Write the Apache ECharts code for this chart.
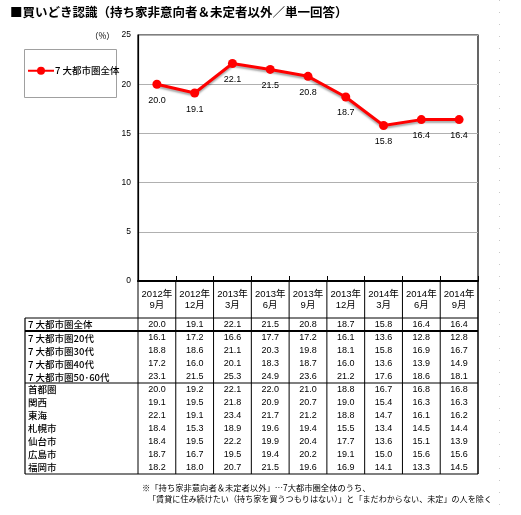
<!DOCTYPE html>
<html>
<head>
<meta charset="utf-8">
<script src="https://cdn.jsdelivr.net/npm/echarts@6/dist/echarts.min.js"></script>
<style>
html,body{margin:0;padding:0;background:#fff}
#divChart{width:521px;height:515px}
</style>
</head>
<body>
<div id="divChart"></div>
<script>
// categories / values
var months = ['2012年\n9月','2012年\n12月','2013年\n3月','2013年\n6月','2013年\n9月','2013年\n12月','2014年\n3月','2014年\n6月','2014年\n9月'];
var yTicks = [0,5,10,15,20,25];

var all7   = [20.0,19.1,22.1,21.5,20.8,18.7,15.8,16.4,16.4];
var age20  = [16.1,17.2,16.6,17.7,17.2,16.1,13.6,12.8,12.8];
var age30  = [18.8,18.6,21.1,20.3,19.8,18.1,15.8,16.9,16.7];
var age40  = [17.2,16.0,20.1,18.3,18.7,16.0,13.6,13.9,14.9];
var age5060= [23.1,21.5,25.3,24.9,23.6,21.2,17.6,18.6,18.1];
var shutoken=[20.0,19.2,22.1,22.0,21.0,18.8,16.7,16.8,16.8];
var kansai = [19.1,19.5,21.8,20.9,20.7,19.0,15.4,16.3,16.3];
var tokai  = [22.1,19.1,23.4,21.7,21.2,18.8,14.7,16.1,16.2];
var sapporo= [18.4,15.3,18.9,19.6,19.4,15.5,13.4,14.5,14.4];
var sendai = [18.4,19.5,22.2,19.9,20.4,17.7,13.6,15.1,13.9];
var hiroshima=[18.7,16.7,19.5,19.4,20.2,19.1,15.0,15.6,15.6];
var fukuoka= [18.2,18.0,20.7,21.5,19.6,16.9,14.1,13.3,14.5];

var seriesName = '7大都市圏全体';
var rowNames = ['7 大都市圏全体','7 大都市圏20代','7 大都市圏30代','7 大都市圏40代','7 大都市圏50･60代','首都圏','関西','東海','札幌市','仙台市','広島市','福岡市'];
var rowVals  = [all7,age20,age30,age40,age5060,shutoken,kansai,tokai,sapporo,sendai,hiroshima,fukuoka];

var titleText = '■買いどき認識（持ち家非意向者＆未定者以外／単一回答）';
var noteLines = ['※「持ち家非意向者＆未定者以外」…7大都市圏全体のうち、','「賃貸に住み続けたい（持ち家を買うつもりはない）」と「まだわからない、未定」の人を除く'];

var FF = '"Liberation Sans","Noto Sans CJK JP",sans-serif';
var JF = '"Noto Sans CJK JP",sans-serif';

var chart = echarts.init(document.getElementById('divChart'));
var gl=138, gt=35, gw=340, gh=246;

chart.setOption({
  animation:false,
  backgroundColor:'#fff',
  textStyle:{fontFamily:FF},
  grid:{left:gl, top:gt, width:gw, height:gh, show:true, borderColor:'#000', borderWidth:1.2, containLabel:false},
  legend:{
    left:27, top:66, itemWidth:26, itemHeight:10, itemGap:0, padding:0,
    textStyle:{fontSize:9.5, fontFamily:JF, fontWeight:500, color:'#000', padding:[0,0,0,-4]},
    formatter:function(n){return '7 大都市圏全体'},
    data:[seriesName]
  },
  xAxis:{
    type:'category', data:months, boundaryGap:true,
    axisLine:{lineStyle:{color:'#000', width:2}},
    axisTick:{show:true, inside:true, length:5, lineStyle:{color:'#000', width:1}},
    axisLabel:{fontSize:9.5, lineHeight:11, margin:8, color:'#000', fontFamily:FF, interval:0}
  },
  yAxis:{
    type:'value', min:yTicks[0], max:yTicks[yTicks.length-1], interval:5,
    axisLine:{show:true, lineStyle:{color:'#000', width:1.2}},
    axisTick:{show:false},
    axisLabel:{fontSize:8.5, color:'#000', margin:7},
    splitLine:{lineStyle:{color:'#b0b0b0', width:1}}
  },
  series:[{
    name:seriesName, type:'line', data:all7,
    symbol:'circle', symbolSize:9,
    lineStyle:{color:'#ff0000', width:3, shadowColor:'rgba(0,0,0,0.35)', shadowBlur:2, shadowOffsetY:2},
    itemStyle:{color:'#ff0000'},
    label:{show:true, position:'bottom', distance:7, fontSize:9, color:'#000', formatter:function(p){return p.value.toFixed(1)}}
  }]
});

// table + decorations drawn from the axis scale
var colX = months.map(function(m,i){return chart.convertToPixel({xAxisIndex:0}, i)});
var half = (colX[1]-colX[0])/2;
var tL = 25, tR = colX[colX.length-1]+half, axisY = gt+gh;
var els = [];
var hl = function(x1,x2,y,w){els.push({type:'line', silent:true, shape:{x1:x1,y1:y,x2:x2,y2:y}, style:{stroke:'#000', lineWidth:w}})};
var vl = function(x,y1,y2,w){els.push({type:'line', silent:true, shape:{x1:x,y1:y1,x2:x,y2:y2}, style:{stroke:'#000', lineWidth:w}})};
var tx = function(s,x,y,o){els.push({type:'text', silent:true, style:Object.assign({text:s, x:x, y:y, fill:'#000', verticalAlign:'middle', align:'left', fontSize:9, fontFamily:FF}, o||{})})};

var tBot = 474;
colX.forEach(function(c,i){ vl(c-half, axisY, tBot, 1) });
vl(tR, axisY, tBot, 1.5);
vl(tL, 318, tBot, 1.2);
hl(tL, tR, 318, 1);
hl(tL, tR, 331, 2);
hl(tL, tR, 383, 1.2);
hl(tL, tR, tBot, 1.2);

var rowY = [324.5];
for (var k=0;k<4;k++) rowY.push(338 + 13*k);
for (var k=0;k<7;k++) rowY.push(389.5 + 13*k);
rowNames.forEach(function(n,r){
  tx(n, 28, rowY[r], {fontSize:9.5, fontFamily:JF, fontWeight:500});
  rowVals[r].forEach(function(v,i){ tx(v.toFixed(1), colX[i], rowY[r], {align:'center', fontSize:9}) });
});

// title, unit, legend box, notes
tx(titleText, 10, 12, {fontSize:12.5, fontWeight:'bold', fontFamily:JF});
tx('（%）', 90, 36, {fontSize:8.5, fontFamily:JF});
els.push({type:'rect', silent:true, shape:{x:24.5, y:49.5, width:92, height:48}, style:{fill:'none', stroke:'#a0a0a0', lineWidth:1}});
tx(noteLines[0], 142, 488, {fontSize:8.3, fontFamily:JF});
tx(noteLines[1], 148, 499, {fontSize:8.1, fontFamily:JF});
els.push({type:'line', silent:true, shape:{x1:499.5,y1:0,x2:499.5,y2:515}, style:{stroke:'#c8c8c8', lineWidth:1, lineDash:[1,11]}});

chart.setOption({graphic:els});
</script>
</body>
</html>
